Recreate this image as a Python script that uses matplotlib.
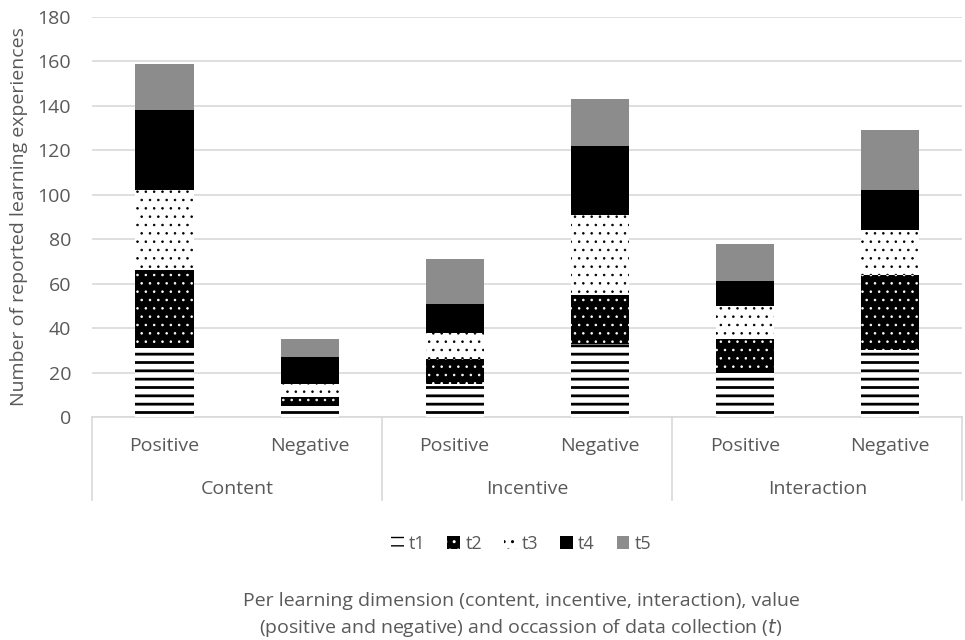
import numpy as np
import matplotlib.pyplot as plt
from matplotlib.patches import Patch
import matplotlib.transforms as mtransforms

plt.rcParams['font.family'] = ['Open Sans', 'DejaVu Sans']

groups = ['Content', 'Incentive', 'Interaction']
values = ['Positive', 'Negative']
series = ['t1', 't2', 't3', 't4', 't5']

# counts per bar: Content+/-, Incentive+/-, Interaction+/-
t1 = [31, 5, 15, 33, 20, 30]
t2 = [35, 4, 11, 22, 15, 34]
t3 = [36, 6, 12, 36, 15, 20]
t4 = [36, 12, 13, 31, 11, 18]
t5 = [21, 8, 20, 21, 17, 27]

text_col = '#595959'
grid_col = '#d9d9d9'

styles = [
    dict(facecolor='white', edgecolor='black', hatch='--', hlw=2.0),
    dict(facecolor='black', edgecolor='white', hatch='..', hlw=0.6),
    dict(facecolor='white', edgecolor='black', hatch='..', hlw=0.6),
    dict(facecolor='black', edgecolor='black', hatch=None, hlw=1.0),
    dict(facecolor='#8c8c8c', edgecolor='#8c8c8c', hatch=None, hlw=1.0),
]

fig = plt.figure(figsize=(9.65, 6.4), dpi=100)
ax = fig.add_axes([0.0953, 0.3484, 0.902, 0.625])

x = np.arange(len(groups) * len(values))
bottom = np.zeros(len(x))
handles = []
for name, vals, st in zip(series, [t1, t2, t3, t4, t5], styles):
    with plt.rc_context({'hatch.linewidth': st['hlw']}):
        ax.bar(x, vals, 0.4, bottom=bottom, facecolor=st['facecolor'],
               edgecolor=st['edgecolor'], hatch=st['hatch'], linewidth=0, zorder=3)
        handles.append(Patch(facecolor=st['facecolor'], edgecolor=st['edgecolor'],
                             hatch=st['hatch'], linewidth=0, label=name))
    bottom += np.array(vals)

ax.set_xlim(-0.5, len(x) - 0.5)
ax.set_ylim(0, 180)
ax.set_yticks(np.arange(0, 181, 20))
ax.yaxis.grid(True, color=grid_col, linewidth=1.2, zorder=0)
ax.set_axisbelow(True)
for s in ['top', 'right', 'left']:
    ax.spines[s].set_visible(False)
ax.spines['bottom'].set_color(grid_col)
ax.spines['bottom'].set_linewidth(1.2)
ax.tick_params(axis='y', length=0, labelsize=14, labelcolor=text_col, pad=15)
ax.set_xticks([])

trans = mtransforms.blended_transform_factory(ax.transData, ax.transAxes)
for i, xi in enumerate(x):
    ax.text(xi, -0.072, values[i % 2], transform=trans, ha='center', va='center',
            fontsize=14, color=text_col)
for g, name in enumerate(groups):
    ax.text(2 * g + 0.5, -0.18, name, transform=trans, ha='center', va='center',
            fontsize=14, color=text_col)
for b in np.arange(-0.5, len(x), 2):
    ax.plot([b, b], [0, -0.2075], transform=trans, color=grid_col,
            linewidth=1.2, clip_on=False)

ax.set_ylabel('Number of reported learning experiences', fontsize=14,
              color=text_col)
ax.yaxis.set_label_coords(-0.074, 0.5)

fig.legend(handles=handles, loc='center', bbox_to_anchor=(0.54, 0.15), ncol=5,
           frameon=False, fontsize=13, labelcolor=text_col, handlelength=0.7,
           handleheight=0.7, handletextpad=0.3, columnspacing=1.2)

fig.text(0.54, 0.038, 'Per learning dimension (content, incentive, interaction), value\n'
         '(positive and negative) and occassion of data collection ($\\it{t}$)',
         ha='center', va='center', fontsize=14, color=text_col, linespacing=1.4)

fig.savefig('out.png', dpi=100)
